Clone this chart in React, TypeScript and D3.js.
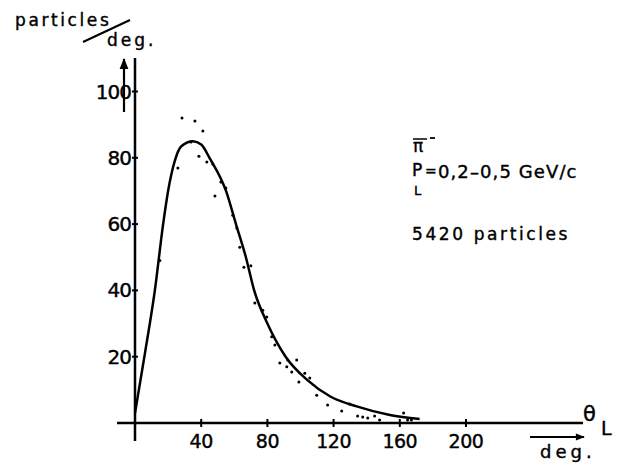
import React from 'react'
import * as d3 from 'd3'

// fitted curve (theta in deg, particles/deg)
const curveTheta = [0, 6, 12, 17, 20, 24, 28, 35, 40, 45, 55, 61, 67, 72, 80, 91, 104, 118, 134, 154, 172]
const curveValue = [3, 21, 40, 60, 70, 79, 83.5, 85, 84, 80, 70, 60, 50, 40, 30, 20, 13, 8, 5, 2.4, 1.2]

// measured points
const dotTheta = [15, 25.9, 28.4, 33.8, 36.2, 38.6, 41, 43.4, 47, 48.3, 51.9, 54.9, 59.1, 61.5, 63.3, 65.8, 70, 72.4, 77.2, 79.6, 82.6, 84.5, 87.5, 91.7, 92.3, 94.7, 97.7, 99, 102.6, 105.6, 109.8, 116.4, 124.9, 129.7, 134.5, 137.6, 140.6, 144.8, 147.8, 162.3, 164.7, 167]
const dotValue = [49, 76.9, 92, 84.8, 91.1, 80.5, 88.1, 78.7, 78.1, 68.5, 72.7, 70.9, 62.7, 58.8, 53, 47, 47.4, 36.2, 34, 32, 26, 23.5, 18.1, 17, 19, 15.4, 19, 12.4, 15, 13.6, 8.4, 5.4, 3.6, 5.7, 2.1, 1.8, 1.5, 2.1, 0.9, 3, 0.9, 0.9]

const xTicks = [40, 80, 120, 160, 200]
const yTicks = [20, 40, 60, 80, 100]

const font = '"DejaVu Sans", sans-serif'

export default function App() {
  const x = d3.scaleLinear().domain([0, 200]).range([135, 466])
  const y = d3.scaleLinear().domain([0, 100]).range([423, 91.5])

  const line = d3.line<number>()
    .x((d, i) => x(curveTheta[i]))
    .y(d => y(d))
    .curve(d3.curveMonotoneX)

  const txt = { fontFamily: font, fill: '#000', stroke: '#000', strokeWidth: 0.4 }

  return (
    <svg width={624} height={472} style={{ position: 'absolute', left: 0, top: 0, background: '#fff' }}>
      <defs>
        <marker id="ah" viewBox="0 0 10 10" refX="9" refY="5" markerWidth="6" markerHeight="5" orient="auto">
          <path d="M0,1 L10,5 L0,9 z" fill="#000" />
        </marker>
      </defs>

      {/* y axis label */}
      <text x={15} y={26} fontSize={17} letterSpacing={2.6} {...txt}>particles</text>
      <line x1={83} y1={42} x2={130} y2={20} stroke="#000" strokeWidth={2} />
      <text x={107} y={46} fontSize={17} letterSpacing={3} {...txt}>deg.</text>
      <line x1={124} y1={112} x2={124} y2={59} stroke="#000" strokeWidth={2.2} markerEnd="url(#ah)" />

      {/* axes */}
      <line x1={x(0)} y1={58} x2={x(0)} y2={441} stroke="#000" strokeWidth={2.5} />
      <line x1={117} y1={y(0)} x2={583} y2={y(0)} stroke="#000" strokeWidth={2.5} />

      {yTicks.map(t => (
        <g key={'y' + t}>
          <line x1={x(0) - 3} x2={x(0) + 3} y1={y(t)} y2={y(t)} stroke="#000" strokeWidth={2} />
          <text x={x(0) - 4} y={y(t) + 7} fontSize={20} letterSpacing={-1} textAnchor="end" {...txt}>{t}</text>
        </g>
      ))}
      {xTicks.map(t => (
        <g key={'x' + t}>
          <line x1={x(t)} x2={x(t)} y1={y(0) - 4} y2={y(0) + 4} stroke="#000" strokeWidth={2} />
          <text x={x(t)} y={448} fontSize={19} letterSpacing={-0.5} textAnchor="middle" {...txt}>{t}</text>
        </g>
      ))}

      {/* x axis label */}
      <text x={583} y={421} fontSize={21} {...txt}>θ</text>
      <text x={601} y={435} fontSize={19} {...txt}>L</text>
      <line x1={530} y1={437} x2={584} y2={437} stroke="#000" strokeWidth={1.8} markerEnd="url(#ah)" />
      <text x={540} y={458} fontSize={18} letterSpacing={4} {...txt}>deg.</text>

      {/* curve and points */}
      <path d={line(curveValue) || ''} fill="none" stroke="#000" strokeWidth={2.5} />
      {dotTheta.map((t, i) => (
        <circle key={i} cx={x(t)} cy={y(dotValue[i])} r={1.5} fill="#000" />
      ))}

      {/* annotation */}
      <line x1={413} y1={139} x2={427} y2={139} stroke="#000" strokeWidth={1.5} />
      <text x={413} y={152} fontSize={17} {...txt}>π</text>
      <line x1={430} y1={138} x2={435} y2={138} stroke="#000" strokeWidth={1.8} />
      <text x={412} y={176} fontSize={17} {...txt}>P</text>
      <text x={414} y={195} fontSize={13} {...txt}>L</text>
      <text x={425} y={176} fontSize={14} {...txt}>=</text>
      <text x={438} y={178} fontSize={18} letterSpacing={1.1} {...txt}>0,2–0,5 GeV/c</text>
      <text x={412} y={240} fontSize={17} letterSpacing={2.6} {...txt}>5420 particles</text>
    </svg>
  )
}
